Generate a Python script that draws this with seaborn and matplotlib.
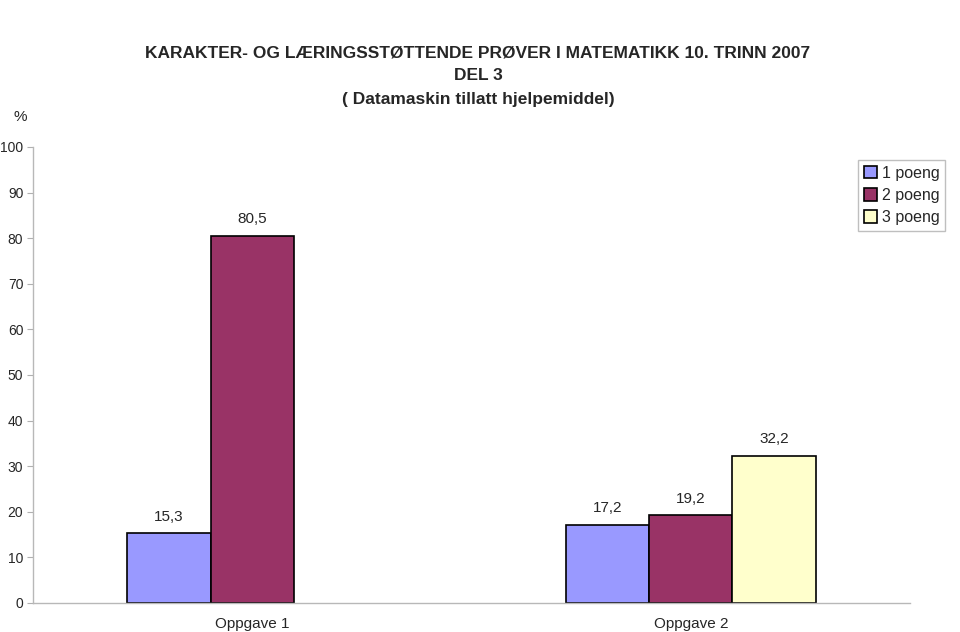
import matplotlib
matplotlib.use("Agg")
import matplotlib.pyplot as plt
import seaborn as sns
import pandas as pd
import numpy as np

categories = ["Oppgave 1", "Oppgave 2"]
series = ["1 poeng", "2 poeng", "3 poeng"]
values_1 = [15.3, 17.2]
values_2 = [80.5, 19.2]
values_3 = [np.nan, 32.2]
colors = ["#9999FF", "#993366", "#FFFFCC"]
yticks = list(range(0, 101, 10))

rows = []
for s, vals in zip(series, [values_1, values_2, values_3]):
    for c, v in zip(categories, vals):
        rows.append({"Oppgave": c, "Poeng": s, "Prosent": v})
df = pd.DataFrame(rows)

sns.set_style("white")
plt.rcParams["font.family"] = ["Liberation Sans", "DejaVu Sans"]

fig = plt.figure(figsize=(9.6, 6.32), dpi=100)
ax = fig.add_axes([33/960, 29/632, (910-33)/960, (603-147)/632])

sns.barplot(data=df, x="Oppgave", y="Prosent", hue="Poeng", hue_order=series,
            order=categories, palette=colors, width=0.57, saturation=1,
            edgecolor="black", linewidth=1.2, ax=ax, errorbar=None)

for cont in ax.containers:
    labels = []
    for v in cont.datavalues:
        labels.append("" if np.isnan(v) else f"{v:.1f}".replace(".", ","))
    ax.bar_label(cont, labels=labels, padding=7, fontsize=11)

ax.set_xlim(-0.5, 1.5)
ax.set_ylim(0, 100)
ax.set_yticks(yticks)
ax.set_yticklabels([str(t) for t in yticks], fontsize=10)
ax.set_xticks([0, 1])
ax.set_xticklabels(categories, fontsize=11)
ax.set_xticks([-0.5, 0.5, 1.5], minor=True)
ax.tick_params(axis="x", which="major", length=0, pad=10)
ax.tick_params(axis="x", which="minor", length=5, color="#b0b0b0", direction="out")
ax.tick_params(axis="y", length=4, color="#b0b0b0", direction="out", left=True, pad=3)
ax.set_xlabel("")
ax.set_ylabel("")
for side in ["top", "right"]:
    ax.spines[side].set_visible(False)
for side in ["left", "bottom"]:
    ax.spines[side].set_color("#b8b8b8")
    ax.spines[side].set_linewidth(1)

fig.text(20/960, 1 - 117/632, "%", ha="center", va="center", fontsize=11)
fig.text(478/960, 1 - 76/632,
         "KARAKTER- OG LÆRINGSSTØTTENDE PRØVER I MATEMATIKK 10. TRINN 2007\nDEL 3\n( Datamaskin tillatt hjelpemiddel)",
         ha="center", va="center", fontsize=12.5, fontweight="bold", linespacing=1.7)

leg = ax.legend(loc="upper left", bbox_to_anchor=(858/960, 1 - 160/632),
                bbox_transform=fig.transFigure, fontsize=11.5, frameon=True,
                fancybox=False, edgecolor="#b0b0b0", handlelength=0.85,
                handleheight=0.85, handletextpad=0.3, borderpad=0.35,
                labelspacing=0.45, borderaxespad=0)
leg.get_frame().set_linewidth(1)

fig.savefig("out.png", dpi=100)
